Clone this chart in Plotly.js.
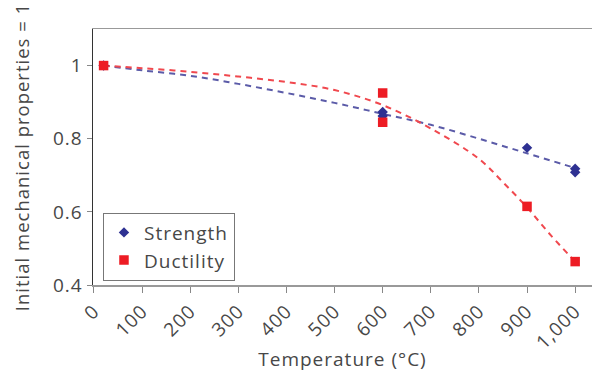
<!DOCTYPE html>
<html>
<head>
<meta charset="utf-8">
<script src="https://cdn.plot.ly/plotly-3.0.1.min.js"></script>
<style>
html,body{margin:0;padding:0;background:#fff;}
#chart{width:592px;height:372px;}
svg text{letter-spacing:1px;}
</style>
</head>
<body>
<div id="chart"></div>
<script>
// Measured points
const strengthT = [20, 600, 600, 900, 1000, 1000];
const strengthV = [1.0, 0.873, 0.862, 0.775, 0.718, 0.708];
const ductilityT = [20, 600, 600, 900, 1000];
const ductilityV = [1.0, 0.925, 0.845, 0.615, 0.464];

// Trend curves
const strengthFitT = [20, 100, 200, 300, 400, 500, 600, 700, 800, 900, 1000];
const strengthFitV = [1.0, 0.987, 0.972, 0.950, 0.925, 0.898, 0.868, 0.838, 0.800, 0.760, 0.720];
const ductilityFitT = [20, 100, 200, 300, 400, 500, 600, 700, 800, 850, 900, 950, 1000];
const ductilityFitV = [1.0, 0.993, 0.983, 0.970, 0.955, 0.933, 0.892, 0.828, 0.745, 0.681, 0.612, 0.535, 0.464];

const xTickVals = [0, 100, 200, 300, 400, 500, 600, 700, 800, 900, 1000];
const xTickText = ['0', '100', '200', '300', '400', '500', '600', '700', '800', '900', '1,000'];
const yTickVals = [0.4, 0.6, 0.8, 1];
const yTickText = ['0.4', '0.6', '0.8', '1'];

const blue = '#2e3192', blueLine = '#5b5ba8';
const red = '#ed1c24', redLine = '#f0484e';
const txt = '#474747';
const fontFam = '"Open Sans", "Noto Sans", sans-serif';
const fnt = {size: 19, color: txt, family: fontFam, weight: 400};
const yTitleFnt = {size: 18.5, color: txt, family: fontFam, weight: 400};

const traces = [
  {x: strengthFitT, y: strengthFitV, mode: 'lines', line: {color: blueLine, width: 2, dash: '6px,5px', shape: 'spline', smoothing: 1}, showlegend: false, hoverinfo: 'skip'},
  {x: ductilityFitT, y: ductilityFitV, mode: 'lines', line: {color: redLine, width: 2, dash: '6px,5px', shape: 'spline', smoothing: 1}, showlegend: false, hoverinfo: 'skip'},
  {x: strengthT, y: strengthV, mode: 'markers', name: 'Strength', marker: {symbol: 'diamond', size: 8, color: blue}},
  {x: ductilityT, y: ductilityV, mode: 'markers', name: 'Ductility', marker: {symbol: 'square', size: 9.5, color: red}}
];

const layout = {
  width: 592, height: 372,
  margin: {l: 93, r: 0, t: 29, b: 87},
  paper_bgcolor: '#fff', plot_bgcolor: '#fff',
  font: fnt,
  showlegend: true,
  legend: {x: 0.02, y: 0.283, xanchor: 'left', yanchor: 'top', bordercolor: '#777', borderwidth: 1,
           bgcolor: 'rgba(255,255,255,1)', font: fnt, itemwidth: 30, tracegroupgap: 0},
  xaxis: {range: [-2, 1035], tickvals: xTickVals, ticktext: xTickText, tickangle: -45,
          showgrid: false, zeroline: false, showline: true, linecolor: '#999', linewidth: 1.5, mirror: true,
          ticks: 'outside', ticklen: 6, tickcolor: '#888', tickwidth: 1,
          tickfont: fnt,
          title: {text: 'Temperature (°C)', font: fnt, standoff: 8}},
  yaxis: {range: [0.4, 1.1], tickvals: yTickVals, ticktext: yTickText,
          showgrid: false, zeroline: false, showline: true, linecolor: '#333', linewidth: 1.5,
          ticks: 'outside', ticklen: 5, tickcolor: '#888', tickwidth: 1,
          tickfont: fnt,
          title: {text: 'Initial mechanical properties = 1', font: yTitleFnt, standoff: 18}}
};

Plotly.newPlot('chart', traces, layout, {displayModeBar: false, staticPlot: true});
</script>
</body>
</html>
